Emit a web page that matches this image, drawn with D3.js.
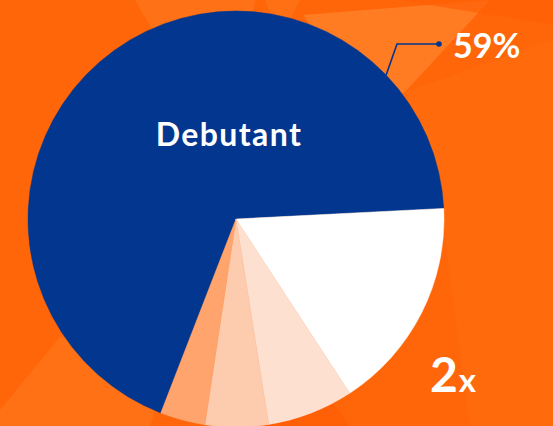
<!DOCTYPE html>
<html>
<head>
<meta charset="utf-8">
<script src="https://cdn.jsdelivr.net/npm/d3@7/dist/d3.min.js"></script>
<style>
  html, body { margin: 0; padding: 0; background: #ff680b; }
  svg { display: block; }
</style>
</head>
<body>
<svg id="chart" width="553" height="426"></svg>
<script>
// ---- data ----
const categories = ["Debutant", "Level 2", "Level 3", "Level 4", "Level 5"];
const values = [68.3, 16.6, 6.7, 4.9, 3.5];
const colors = ["#02368f", "#ffffff", "#fde0cf", "#fdcbae", "#fea46c"];
const calloutLabel = "59%";
const cornerLabelBig = "2";
const cornerLabelSmall = "x";

// ---- layout ----
const W = 553, H = 426;
const cx = 236, cy = 219, R = 208;
const startDeg = 201.2;

const svg = d3.select("#chart");

// background facets
const bg = svg.append("g");
bg.append("rect").attr("width", W).attr("height", H).attr("fill", "#ff6609");
const facets = [
  {pts: [[135,0],[255,0],[245,60],[170,60]], fill: "#ff741a", op: 0.8},
  {pts: [[265,0],[300,0],[280,40]], fill: "#ff741a", op: 0.6},
  {pts: [[303,15],[490,0],[405,92],[370,110],[320,40]], fill: "#ff7c22", op: 1},
  {pts: [[399,0],[553,0],[553,25]], fill: "#ff5f05", op: 0.7},
  {pts: [[405,92],[553,40],[553,426],[470,426],[440,200]], fill: "#ff6c0e", op: 0.7},
  {pts: [[60,337],[170,370],[150,426],[0,426],[0,410]], fill: "#ff7418", op: 0.8},
  {pts: [[220,426],[330,400],[350,426]], fill: "#ff5f05", op: 0.8}
];
bg.selectAll("polygon").data(facets).join("polygon")
  .attr("points", d => d.pts.map(p => p.join(",")).join(" "))
  .attr("fill", d => d.fill).attr("opacity", d => d.op);

// pie
const pie = d3.pie().sort(null).value(d => d)
  .startAngle(startDeg * Math.PI / 180)
  .endAngle(startDeg * Math.PI / 180 + 2 * Math.PI);
const arcs = pie(values);
const arc = d3.arc().innerRadius(0).outerRadius(R);

const g = svg.append("g").attr("transform", `translate(${cx},${cy})`);
g.selectAll("path").data(arcs).join("path")
  .attr("d", arc)
  .attr("fill", (d, i) => colors[i])
  .attr("stroke", (d, i) => colors[i])
  .attr("stroke-width", 0.5);

// Debutant label
g.append("text")
  .attr("x", -7).attr("y", -73)
  .attr("text-anchor", "middle")
  .attr("fill", "#ffffff")
  .style("font-family", "Lato, sans-serif")
  .style("font-weight", "700")
  .style("font-size", "32px")
  .style("letter-spacing", "1.4px")
  .text(categories[0]);

// callout leader for 59%
const edgeAng = 46.2 * Math.PI / 180; // position on blue arc edge
const ex = cx + R * Math.sin(edgeAng), ey = cy - R * Math.cos(edgeAng);
const leader = d3.line();
svg.append("path")
  .attr("d", leader([[ex, ey], [397, 44], [439, 44]]))
  .attr("fill", "none")
  .attr("stroke", "#02368f")
  .attr("stroke-width", 1.6);
svg.append("circle").attr("cx", 439).attr("cy", 44).attr("r", 2.8).attr("fill", "#02368f");

svg.append("text")
  .attr("x", 453).attr("y", 58)
  .attr("fill", "#ffffff")
  .style("font-family", "Lato, sans-serif")
  .style("font-weight", "700")
  .style("font-size", "34px")
  .text(calloutLabel);

// 2x label
const t2 = svg.append("text")
  .attr("x", 430).attr("y", 392)
  .attr("fill", "#ffffff")
  .style("font-family", "Lato, sans-serif")
  .style("font-weight", "700");
t2.append("tspan").style("font-size", "48px").text(cornerLabelBig);
t2.append("tspan").style("font-size", "33px").attr("dx", 1).text(cornerLabelSmall);
</script>
</body>
</html>
